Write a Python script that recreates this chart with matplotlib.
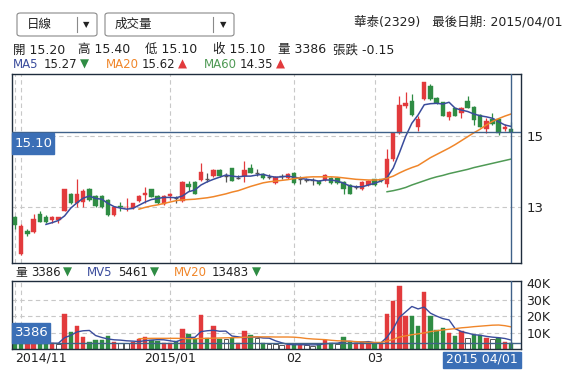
import matplotlib
matplotlib.use("Agg")
import matplotlib.pyplot as plt
from matplotlib.patches import Rectangle, FancyBboxPatch

plt.rcParams["font.family"] = ["DejaVu Sans", "Noto Sans CJK TC"]

W, H = 578, 382

## daily candles (Taiwan colours: red = up, green = down)
opens = [12.73, 11.67, 12.32, 12.30, 12.80, 12.73, 12.63, 12.63, 12.90, 13.36,
         13.10, 13.15, 13.51, 13.31, 13.31, 13.20, 12.78, 13.03, 12.99, 12.96,
         13.17, 13.34, 13.50, 13.31, 13.08, 13.31, 13.24, 13.17, 13.65, 13.70,
         13.76, 13.79, 13.87, 14.04, 13.86, 14.09, 13.81, 13.87, 14.09, 13.97,
         13.93, 13.84, 13.68, 13.86, 13.83, 13.95, 13.80, 13.77, 13.75, 13.73,
         13.76, 13.83, 13.83, 13.71, 13.62, 13.56, 13.50, 13.62, 13.78, 13.78,
         13.65, 14.34, 15.08, 15.85, 15.99, 15.25, 16.03, 16.41, 16.06, 15.95,
         15.53, 15.78, 15.66, 15.99, 15.83, 15.59, 15.19, 15.47, 15.47, 15.19,
         15.20]
highs = [12.76, 12.52, 12.39, 12.80, 12.90, 12.78, 12.76, 12.73, 13.51, 13.40,
         13.78, 13.50, 13.53, 13.33, 13.33, 13.22, 13.01, 13.13, 13.25, 13.12,
         13.35, 13.55, 13.52, 13.33, 13.33, 13.40, 13.32, 13.72, 13.74, 13.72,
         14.23, 13.96, 14.06, 14.06, 13.95, 14.11, 13.90, 14.30, 14.20, 14.08,
         13.95, 13.93, 13.87, 13.92, 13.95, 13.98, 13.86, 13.82, 13.82, 13.76,
         13.93, 13.85, 13.85, 13.73, 13.64, 13.62, 13.72, 13.75, 13.80, 13.78,
         14.63, 15.12, 16.13, 16.25, 16.17, 15.55, 16.51, 16.47, 16.10, 15.97,
         15.70, 15.80, 15.82, 16.14, 15.85, 15.61, 15.52, 15.65, 15.50, 15.35,
         15.40]
lows = [12.37, 11.65, 12.19, 12.28, 12.57, 12.56, 12.55, 12.55, 12.88, 13.08,
        13.01, 13.01, 13.18, 13.00, 12.97, 12.75, 12.76, 12.88, 12.90, 12.94,
        13.15, 13.11, 13.27, 13.08, 13.06, 13.20, 13.11, 13.15, 13.46, 13.36,
        13.74, 13.70, 13.85, 13.85, 13.70, 13.72, 13.78, 13.70, 13.95, 13.88,
        13.78, 13.80, 13.66, 13.78, 13.80, 13.66, 13.65, 13.70, 13.63, 13.62,
        13.74, 13.66, 13.66, 13.37, 13.36, 13.50, 13.48, 13.60, 13.60, 13.70,
        13.55, 14.30, 15.06, 15.80, 15.57, 15.15, 16.00, 16.00, 15.90, 15.55,
        15.45, 15.55, 15.50, 15.78, 15.30, 15.24, 15.08, 15.30, 15.02, 15.15,
        15.10]
closes = [12.49, 12.46, 12.24, 12.65, 12.59, 12.59, 12.71, 12.72, 13.51, 13.10,
          13.36, 13.46, 13.20, 13.03, 12.99, 12.78, 12.99, 12.99, 13.01, 13.10,
          13.31, 13.40, 13.29, 13.10, 13.31, 13.38, 13.24, 13.70, 13.55, 13.38,
          13.99, 13.79, 14.04, 13.87, 13.86, 13.74, 13.81, 14.04, 13.97, 13.97,
          13.81, 13.84, 13.85, 13.86, 13.92, 13.68, 13.80, 13.77, 13.75, 13.64,
          13.90, 13.69, 13.69, 13.50, 13.38, 13.56, 13.70, 13.73, 13.62, 13.72,
          14.34, 15.08, 15.87, 15.94, 15.59, 15.47, 16.51, 16.03, 15.92, 15.57,
          15.68, 15.57, 15.80, 15.80, 15.45, 15.26, 15.43, 15.34, 15.09, 15.26,
          15.10]

## volume in thousands of shares, colour: r up / g down / w unchanged
volume_k = [3.2, 4.0, 3.0, 3.5, 3.2, 3.2, 3.6, 3.2, 21.4, 10.1,
            13.7, 7.1, 4.4, 5.7, 5.3, 8.1, 4.4, 3.6, 3.6, 4.4,
            6.3, 7.5, 5.3, 5.1, 3.6, 3.6, 4.6, 12.3, 9.3, 6.1,
            20.8, 6.9, 14.1, 6.3, 6.3, 6.7, 3.6, 11.1, 8.5, 6.7,
            3.6, 3.2, 3.2, 2.6, 2.6, 2.6, 2.6, 2.6, 2.0, 3.0,
            5.7, 3.6, 3.0, 7.1, 4.0, 3.6, 4.0, 3.6, 3.6, 3.6,
            21.2, 29.5, 38.6, 20.2, 20.2, 13.7, 35.0, 19.8, 11.3, 12.7,
            9.7, 8.1, 11.1, 6.7, 8.5, 8.5, 7.0, 6.0, 6.5, 4.0,
            3.386]
vol_kind = ("ggrrggrw" "rgrrggggrwwrrrggrrgrggrgrgwgrrgwgwww"
            "rgrwwgrgwggrrrgr" "rrrrggrgggrgrwggrwgrg")

## moving averages (first index given)
ma5_start = 5
ma5 = [12.51, 12.56, 12.62, 12.75, 12.97, 13.12, 13.25, 13.31, 13.24, 13.22,
       13.10, 13.01, 12.97, 12.94, 12.96, 13.05, 13.14, 13.21, 13.24, 13.27,
       13.27, 13.26, 13.31, 13.43, 13.48, 13.62, 13.71, 13.78, 13.84, 13.90,
       13.87, 13.85, 13.87, 13.87, 13.90, 13.92, 13.87, 13.84, 13.85, 13.87,
       13.84, 13.81, 13.78, 13.76, 13.73, 13.76, 13.76, 13.73, 13.67, 13.59,
       13.57, 13.57, 13.62, 13.67, 13.73, 13.83, 14.10, 14.53, 14.99, 15.36,
       15.59, 15.88, 15.91, 15.92, 15.90, 15.95, 15.78, 15.73, 15.69, 15.62,
       15.57, 15.54, 15.50, 15.40, 15.31, 15.27]
ma20_start = 20
ma20 = [12.94, 12.99, 13.03, 13.06, 13.10, 13.14, 13.18, 13.20, 13.21, 13.22,
        13.24, 13.26, 13.29, 13.33, 13.37, 13.42, 13.46, 13.52, 13.58, 13.63,
        13.68, 13.71, 13.73, 13.75, 13.77, 13.80, 13.82, 13.84, 13.85, 13.85,
        13.85, 13.85, 13.84, 13.82, 13.80, 13.78, 13.77, 13.76, 13.76, 13.77,
        13.81, 13.87, 13.96, 14.04, 14.11, 14.17, 14.28, 14.39, 14.48, 14.57,
        14.66, 14.76, 14.87, 14.98, 15.09, 15.19, 15.31, 15.41, 15.49, 15.56,
        15.62]
ma60_start = 60
ma60 = [13.43, 13.46, 13.50, 13.55, 13.62, 13.68, 13.74, 13.80, 13.85, 13.89,
        13.94, 13.98, 14.02, 14.06, 14.11, 14.15, 14.19, 14.23, 14.27, 14.31,
        14.35]
mv5_start = 4
mv5 = [3.4, 3.4, 3.5, 3.5, 6.9, 8.3, 10.4, 11.1, 11.3, 8.2,
       7.0, 6.1, 5.6, 5.4, 5.0, 4.8, 4.5, 5.1, 5.4, 5.7,
       5.6, 5.0, 4.4, 5.9, 7.0, 7.1, 10.6, 11.1, 11.4, 10.8,
       10.9, 7.9, 7.4, 6.8, 7.2, 7.3, 6.7, 6.6, 5.0, 3.8,
       2.8, 2.6, 2.6, 2.6, 2.5, 2.6, 3.2, 3.4, 3.5, 4.5,
       4.7, 4.3, 4.3, 4.5, 3.8, 3.7, 7.2, 12.4, 19.3, 22.6,
       25.9, 24.4, 25.5, 21.8, 20.0, 18.5, 17.7, 12.3, 10.6, 9.7,
       8.7, 8.4, 7.7, 7.2, 6.9, 6.4, 5.46]
mv20_start = 20
mv20 = [6.3, 6.4, 6.5, 6.5, 6.5, 6.5, 6.5, 6.4, 6.3, 6.3,
        6.4, 6.5, 6.6, 6.7, 6.8, 6.9, 6.9, 7.1, 7.3, 7.4,
        7.4, 7.4, 7.3, 7.3, 7.3, 7.2, 6.9, 6.4, 6.1, 5.9,
        5.7, 5.3, 5.0, 4.9, 4.7, 4.5, 4.3, 4.0, 4.0, 4.0,
        4.8, 5.8, 7.3, 8.0, 8.7, 9.2, 9.8, 10.6, 11.1, 11.6,
        12.0, 12.4, 12.9, 13.2, 13.6, 13.9, 14.2, 14.5, 14.6, 14.2,
        13.48]

month_idx = [0, 1, 25, 45, 58]
month_lbl = [(0, "2014/11"), (25, "2015/01"), (45, "02"), (58, "03")]

RED = "#e23a3c"
GREEN = "#2f8c44"
GRAY = "#555555"
BLUE = "#3a4c9c"
ORANGE = "#f0862a"
MGREEN = "#4f9a55"
BOX = "#3b6fb6"
LINE = "#3f6189"
FRAME = "#1e2c3c"
GRID = "#c8c8c8"
TXT = "#222222"

fig = plt.figure(figsize=(W / 100, H / 100), dpi=100)


def rect(x0, y0, x1, y1):
    return [x0 / W, 1 - y1 / H, (x1 - x0) / W, (y1 - y0) / H]


def ftext(x, y, s, **kw):
    kw.setdefault("fontsize", 9)
    kw.setdefault("color", TXT)
    kw.setdefault("va", "center")
    fig.text(x / W, 1 - y / H, s, **kw)


n = len(closes)
xs = list(range(n))
xlim = (-0.48, 81.6)

ax = fig.add_axes(rect(12, 74, 521, 263))
axv = fig.add_axes(rect(12, 281, 521, 349))

for a in (ax, axv):
    a.set_xlim(*xlim)
    for sp in a.spines.values():
        sp.set_color(FRAME)
        sp.set_linewidth(1.0)
    a.tick_params(left=False, bottom=False, labelleft=False, labelbottom=False,
                  right=False, labelright=True, length=0, pad=4)
    for m in month_idx:
        a.axvline(m, color=GRID, lw=0.8, ls=(0, (4, 3)), zorder=0)

# price panel
ax.set_ylim(11.423, 16.746)
ax.set_yticks([13, 15])
ax.set_yticklabels(["13", "15"], fontsize=9.5, color=TXT)
for v in (13, 15):
    ax.axhline(v, color=GRID, lw=0.8, ls=(0, (4, 3)), zorder=0)

for i in xs:
    o, h, l, c = opens[i], highs[i], lows[i], closes[i]
    col = RED if c > o else (GREEN if c < o else GRAY)
    ax.vlines(i, l, h, color=col, lw=0.9, zorder=2)
    if c == o:
        ax.hlines(c, i - 0.36, i + 0.36, color=col, lw=1.0, zorder=3)
    else:
        ax.bar(i, abs(c - o), bottom=min(o, c), width=0.72, color=col,
               edgecolor=col, lw=0.3, zorder=3)

ax.plot(range(ma5_start, ma5_start + len(ma5)), ma5, color=BLUE, lw=1.1, zorder=4)
ax.plot(range(ma20_start, ma20_start + len(ma20)), ma20, color=ORANGE, lw=1.1, zorder=4)
ax.plot(range(ma60_start, ma60_start + len(ma60)), ma60, color=MGREEN, lw=1.1, zorder=4)

ax.axhline(closes[-1], color=LINE, lw=1.0, zorder=5)
ax.axvline(n - 1, color=LINE, lw=1.0, zorder=5)

# volume panel
axv.set_ylim(0, 41.4)
axv.set_yticks([10, 20, 30, 40])
axv.set_yticklabels(["10K", "20K", "30K", "40K"], fontsize=9, color=TXT)
for v in (10, 20, 30):
    axv.axhline(v, color=GRID, lw=0.8, ls=(0, (4, 3)), zorder=0)
for i in xs:
    k = vol_kind[i]
    if k == "w":
        axv.bar(i, volume_k[i], width=0.72, color="white", edgecolor=GRAY,
                lw=0.7, zorder=2)
    else:
        col = RED if k == "r" else GREEN
        axv.bar(i, volume_k[i], width=0.72, color=col, edgecolor=col, lw=0.3,
                zorder=2)
axv.plot(range(mv5_start, mv5_start + len(mv5)), mv5, color=BLUE, lw=1.0, zorder=4)
axv.plot(range(mv20_start, mv20_start + len(mv20)), mv20, color=ORANGE, lw=1.0, zorder=4)
axv.axhline(volume_k[-1], color=LINE, lw=1.0, zorder=5)
axv.axvline(n - 1, color=LINE, lw=1.0, zorder=5)

# value boxes on the crosshair
for (x0, y0, x1, y1, s) in [(12.5, 133.5, 54, 153.5, "%.2f" % closes[-1]),
                            (12.5, 323, 50, 343, "%d" % round(volume_k[-1] * 1000))]:
    fig.patches.append(Rectangle((x0 / W, 1 - y1 / H), (x1 - x0) / W, (y1 - y0) / H,
                                 transform=fig.transFigure, color=BOX, zorder=10))
    ftext(x0 + 2.5, (y0 + y1) / 2, s, color="white", fontsize=9.5, zorder=11)

# x labels
for idx, s in month_lbl:
    x = 15 + idx * 6.2
    if idx == 0:
        ftext(x, 358, s, ha="left", fontsize=9)
    else:
        ftext(x, 358, s, ha="center", fontsize=9)
fig.patches.append(Rectangle((443 / W, 1 - 368 / H), 78 / W, 16 / H,
                             transform=fig.transFigure, color=BOX, zorder=10))
ftext(482, 359.5, "2015 04/01", color="white", ha="center", fontsize=9, zorder=11)

# header dropdowns
for (x0, x1, sep, s) in [(17, 97, 77, "日線"), (105, 234, 213, "成交量")]:
    fig.patches.append(FancyBboxPatch((x0 / W, 1 - 36 / H), (x1 - x0) / W, 23 / H,
                                      boxstyle="round,pad=0,rounding_size=0.006",
                                      transform=fig.transFigure, fc="white",
                                      ec="#8a8a8a", lw=0.8))
    fig.add_artist(plt.Line2D([sep / W, sep / W], [1 - 17 / H, 1 - 32 / H],
                              transform=fig.transFigure, color="#8a8a8a", lw=0.8))
    ftext(x0 + 10, 24.5, s, fontsize=9)
    ftext(x1 - 11, 24.5, "▼", fontsize=6, ha="center")

ftext(563, 22, "華泰(2329)   最後日期: 2015/04/01", ha="right", fontsize=9)

# OHLC row
for x, s in [(13, "開 15.20"), (78, "高 15.40"), (145, "低 15.10"),
             (213, "收 15.10"), (278, "量 3386"), (333, "張跌 -0.15")]:
    ftext(x, 50, s, fontsize=9)

# MA legend row
for x, s, c in [(13, "MA5", BLUE), (44, "15.27", TXT), (79.5, "▼", GREEN),
                (106, "MA20", ORANGE), (142, "15.62", TXT), (177.5, "▲", RED),
                (204, "MA60", MGREEN), (240, "14.35", TXT), (275.5, "▲", RED)]:
    ftext(x, 64.5, s, color=c, fontsize=8.5)

# volume legend row
for x, s, c in [(15, "量", TXT), (31, "3386", TXT), (62.5, "▼", GREEN),
                (87, "MV5", BLUE), (118, "5461", TXT), (149.5, "▼", GREEN),
                (174, "MV20", ORANGE), (212, "13483", TXT), (251.5, "▼", GREEN)]:
    ftext(x, 272.5, s, color=c, fontsize=8.5)

fig.savefig("out.png", dpi=100)
